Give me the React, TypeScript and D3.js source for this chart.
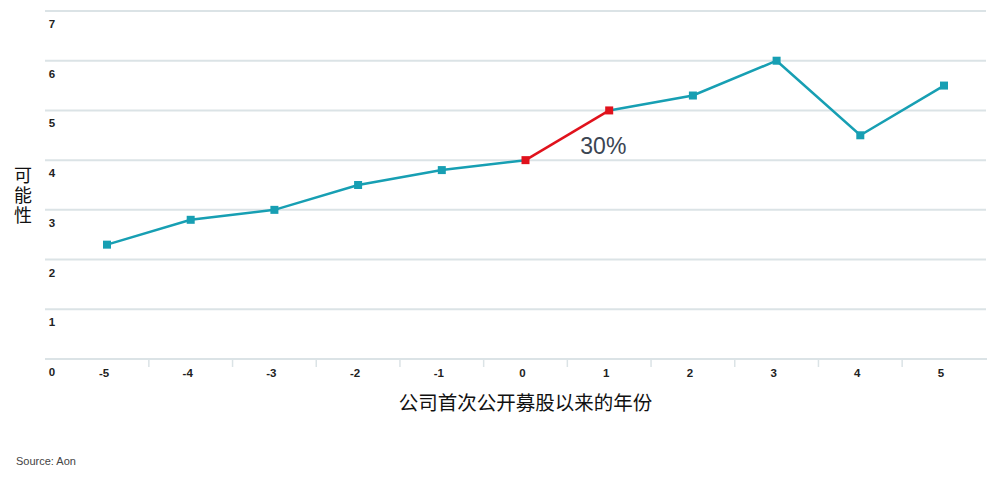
import * as d3 from 'd3';

// Years since IPO and the likelihood value at each
const years = [-5, -4, -3, -2, -1, 0, 1, 2, 3, 4, 5];
const likelihood = [2.3, 2.8, 3.0, 3.5, 3.8, 4.0, 5.0, 5.3, 6.0, 4.5, 5.5];
const yTicks = [0, 1, 2, 3, 4, 5, 6, 7];
// segment between these years is highlighted
const highlightFrom = 0;
const highlightTo = 1;
const highlightLabel = '30%';

const yTitle = '可能性';
const xTitle = '公司首次公开募股以来的年份';
const source = 'Source: Aon';

const width = 1000;
const height = 479;
const teal = '#179fb3';
const red = '#e0121c';
const gridColor = '#dbe3e6';
const tickFont = '"Liberation Sans", Arial, sans-serif';
const cjkFont = '"Noto Sans CJK SC", sans-serif';

export default function App() {
  const x = d3.scaleLinear().domain([-5, 5]).range([107, 944]);
  const y = d3.scaleLinear().domain([0, 7]).range([359, 11]);
  const gridLeft = 45;
  const gridRight = 986;

  const points = years.map((yr, i) => ({ yr, v: likelihood[i] }));
  const line = d3
    .line<{ yr: number; v: number }>()
    .x((d) => x(d.yr))
    .y((d) => y(d.v));

  const before = points.filter((d) => d.yr <= highlightFrom);
  const mid = points.filter((d) => d.yr >= highlightFrom && d.yr <= highlightTo);
  const after = points.filter((d) => d.yr >= highlightTo);

  // ticks between categories on the bottom axis
  const between = d3.pairs(years).map(([a, b]) => (a + b) / 2);

  const hA = points.find((d) => d.yr === highlightFrom)!;
  const hB = points.find((d) => d.yr === highlightTo)!;

  return (
    <svg
      width={width}
      height={height}
      style={{ position: 'fixed', left: 0, top: 0, background: '#fff' }}
    >
      {/* grid */}
      {yTicks.map((t) => (
        <g key={t}>
          <line
            x1={gridLeft}
            x2={t === 0 ? gridRight + 1 : gridRight}
            y1={y(t)}
            y2={y(t)}
            stroke={gridColor}
            strokeWidth={2}
          />
          <text
            x={52}
            y={y(t) + 17}
            textAnchor="middle"
            fontFamily={tickFont}
            fontSize={11.5}
            fontWeight="bold"
            fill="#222"
          >
            {t}
          </text>
        </g>
      ))}

      {/* bottom axis ticks */}
      {between.map((b) => (
        <line
          key={b}
          x1={x(b)}
          x2={x(b)}
          y1={y(0)}
          y2={y(0) + 8}
          stroke={gridColor}
          strokeWidth={1.5}
        />
      ))}
      {years.map((yr) => (
        <text
          key={yr}
          x={x(yr) - 3}
          y={y(0) + 18}
          textAnchor="middle"
          fontFamily={tickFont}
          fontSize={11.5}
          fontWeight="bold"
          fill="#222"
        >
          {yr}
        </text>
      ))}

      {/* series */}
      <path d={line(before) ?? ''} fill="none" stroke={teal} strokeWidth={2.5} />
      <path d={line(after) ?? ''} fill="none" stroke={teal} strokeWidth={2.5} />
      <path d={line(mid) ?? ''} fill="none" stroke={red} strokeWidth={2.5} />
      {points.map((d) => {
        const hi = d.yr === highlightFrom || d.yr === highlightTo;
        return (
          <rect
            key={d.yr}
            x={x(d.yr) - 4}
            y={y(d.v) - 4}
            width={8}
            height={8}
            fill={hi ? red : teal}
          />
        );
      })}

      <text
        x={(x(hA.yr) + x(hB.yr)) / 2 + 36}
        y={(y(hA.v) + y(hB.v)) / 2 + 19}
        textAnchor="middle"
        fontFamily='"Liberation Sans", Arial, sans-serif'
        fontSize={23}
        fill="#3b4552"
      >
        {highlightLabel}
      </text>

      {/* axis titles */}
      <text
        x={23}
        y={166}
        fontFamily={cjkFont}
        fontSize={18}
        fill="#111"
        style={{ writingMode: 'vertical-rl', letterSpacing: '2px' }}
      >
        {yTitle}
      </text>
      <text
        x={x(0)}
        y={410}
        textAnchor="middle"
        fontFamily={cjkFont}
        fontSize={19.5}
        fill="#111"
      >
        {xTitle}
      </text>
      <text x={16} y={465} fontFamily={tickFont} fontSize={11} fill="#444">
        {source}
      </text>
    </svg>
  );
}
